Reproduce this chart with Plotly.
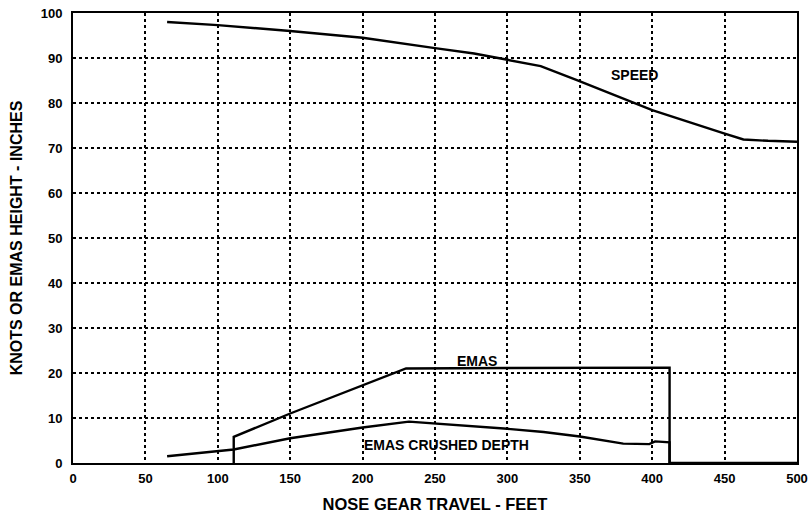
import plotly.graph_objects as go

# Nose gear travel (feet) and aircraft speed (knots)
speed_x = [65, 100, 150, 200, 250, 277, 300, 323, 348, 400, 449, 463, 480, 500]
speed_y = [98.0, 97.3, 96.0, 94.5, 92.2, 91.0, 89.6, 88.2, 85.1, 78.4, 73.3, 71.9, 71.6, 71.4]

# EMAS bed height (inches)
emas_x = [111, 111, 150, 230, 300, 400, 412, 412, 500]
emas_y = [0, 5.8, 11.0, 21.0, 21.1, 21.2, 21.2, 0, 0]

# EMAS crushed depth (inches)
crush_x = [65, 111, 150, 200, 232, 250, 300, 325, 350, 380, 398, 402, 412, 412]
crush_y = [1.5, 3.0, 5.5, 7.9, 9.2, 8.8, 7.6, 6.9, 5.9, 4.3, 4.2, 4.8, 4.6, 0]

x_ticks = [0, 50, 100, 150, 200, 250, 300, 350, 400, 450, 500]
y_ticks = [0, 10, 20, 30, 40, 50, 60, 70, 80, 90, 100]

labels = [
    ("SPEED", 388, 86.2),
    ("EMAS", 279, 22.7),
    ("EMAS CRUSHED DEPTH", 258, 4.0),
]

FONT = "Liberation Sans"
line_style = dict(color="black", width=2.4)

fig = go.Figure()
for xs, ys in [(speed_x, speed_y), (emas_x, emas_y), (crush_x, crush_y)]:
    fig.add_trace(go.Scatter(x=xs, y=ys, mode="lines", line=line_style,
                             showlegend=False, hoverinfo="skip"))

for text, x, y in labels:
    fig.add_annotation(x=x, y=y, text=text, showarrow=False,
                       font=dict(family=FONT, size=14, color="black", weight="bold"))

axis_common = dict(
    showline=True, linecolor="black", linewidth=2, mirror=True,
    showgrid=True, gridcolor="black", gridwidth=1.5, griddash="dot",
    zeroline=False, ticks="", automargin=False,
    tickfont=dict(family=FONT, size=13, color="black", weight="bold"),
)

fig.update_xaxes(range=[0, 500], tickvals=x_ticks, ticklabelstandoff=2,
                 title=dict(text="NOSE GEAR TRAVEL - FEET", standoff=14,
                            font=dict(family=FONT, size=16.5, color="black", weight="bold")),
                 **axis_common)
fig.update_yaxes(range=[0, 100], tickvals=y_ticks, ticklabelstandoff=6,
                 title=dict(text="KNOTS OR EMAS HEIGHT - INCHES", standoff=14,
                            font=dict(family=FONT, size=16, color="black", weight="bold")),
                 **axis_common)

fig.update_layout(
    width=808, height=513,
    margin=dict(l=73, r=11, t=13, b=50),
    paper_bgcolor="white", plot_bgcolor="white",
)

fig.write_html("out.html")
